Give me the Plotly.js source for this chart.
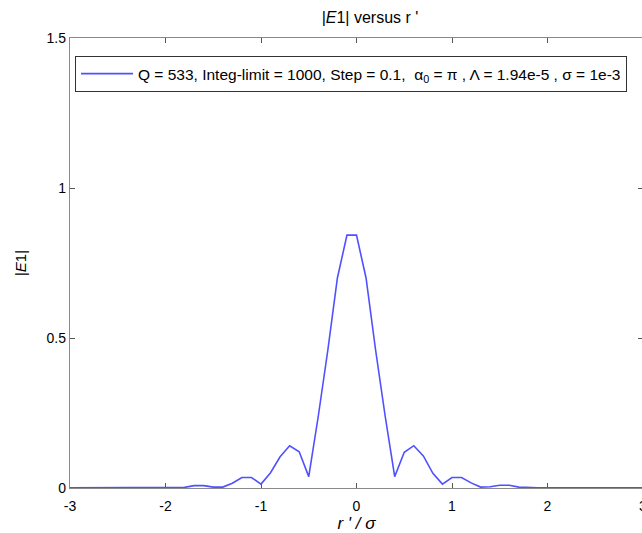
<!DOCTYPE html>
<html>
<head>
<meta charset="utf-8">
<script src="https://cdn.plot.ly/plotly-3.0.1.min.js"></script>
<style>
html,body{margin:0;padding:0;overflow:hidden;background:#fff;}
#plot{width:648px;height:533px;}
</style>
</head>
<body>
<div id="plot"></div>
<script>
// r'/sigma sample positions
var rOverSigma = [-3.0,-2.9,-2.8,-2.7,-2.6,-2.5,-2.4,-2.3,-2.2,-2.1,-2.0,
  -1.9,-1.8,-1.7,-1.6,-1.5,-1.4,-1.3,-1.2,-1.1,-1.0,
  -0.9,-0.8,-0.7,-0.6,-0.5,-0.4,-0.3,-0.2,-0.1,0.0,
  0.1,0.2,0.3,0.4,0.5,0.6,0.7,0.8,0.9,1.0,
  1.1,1.2,1.3,1.4,1.5,1.6,1.7,1.8,1.9,2.0,
  2.1,2.2,2.3,2.4,2.5,2.6,2.7,2.8,2.9,3.0];
// |E1| values
var absE1 = [0.001,0.001,0.001,0.001,0.001,0.001,0.001,0.001,0.001,0.001,0.001,
  0.001,0.002,0.008,0.008,0.003,0.003,0.016,0.035,0.035,0.013,
  0.051,0.104,0.141,0.121,0.038,0.24,0.46,0.70,0.843,0.843,
  0.70,0.46,0.24,0.038,0.119,0.141,0.107,0.049,0.013,0.035,
  0.035,0.017,0.003,0.004,0.009,0.009,0.003,0.001,0.001,0.001,
  0.001,0.001,0.001,0.001,0.001,0.001,0.001,0.001,0.001,0.001];
var xTicks = [-3,-2,-1,0,1,2,3];
var yTicks = [0,0.5,1,1.5];
var yTickText = ['0','0.5','1','1.5'];
var legendLabel = 'Q = 533, Integ-limit = 1000, Step = 0.1,  \u03b1<sub>0</sub> = \u03c0 , \u039b = 1.94e-5 , \u03c3 = 1e-3';

var trace = {
  x: rOverSigma, y: absE1, type: 'scatter', mode: 'lines',
  name: legendLabel,
  line: {color: 'rgb(80,80,255)', width: 1.6}
};

var fam = '"Liberation Sans", Arial, sans-serif';
var font = {family: fam, size: 14, color: '#000'};
var axisCommon = {
  showline: true, linecolor: '#8a8a8a', linewidth: 1.2, mirror: 'ticks',
  ticks: 'inside', ticklen: 5, tickcolor: '#555', tickwidth: 1,
  showgrid: false, zeroline: false, layer: 'below traces',
  tickfont: font
};

var layout = {
  width: 648, height: 533,
  margin: {l: 70, r: 5, t: 38, b: 45},
  paper_bgcolor: '#fff', plot_bgcolor: '#fff',
  font: font,
  title: {text: '|<i>E</i>1| versus r \'', font: {family: fam, size: 16, color: '#000'},
          x: 370/648, xref: 'container', xanchor: 'center', y: 1 - 17/533, yref: 'container', yanchor: 'middle'},
  xaxis: Object.assign({}, axisCommon, {
    range: [-3, 3], tickvals: xTicks, ticktext: xTicks.map(String),
    ticklabelstandoff: 5,
    title: {text: '<i>r \' / \u03c3</i>', font: {family: fam, size: 17, color: '#000'}, standoff: 4}
  }),
  yaxis: Object.assign({}, axisCommon, {
    range: [0, 1.5], tickvals: yTicks, ticktext: yTickText,
    title: {text: '|<i>E</i>1|', font: {family: fam, size: 15, color: '#000'}, standoff: 16}
  }),
  showlegend: true,
  legend: {
    x: 5/573, y: (488-56)/450, xanchor: 'left', yanchor: 'top',
    bordercolor: '#333', borderwidth: 1, bgcolor: '#fff',
    font: {family: fam, size: 15.5, color: '#000'},
    itemwidth: 52
  }
};

Plotly.newPlot('plot', [trace], layout, {displayModeBar: false, staticPlot: true});
</script>
</body>
</html>
